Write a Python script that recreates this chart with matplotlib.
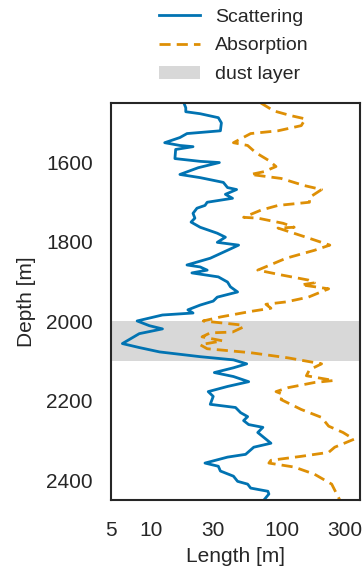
import matplotlib.pyplot as plt
from matplotlib.patches import Patch

plt.rcParams['font.family'] = ['Liberation Sans', 'DejaVu Sans']
plt.rcParams['text.color'] = '.15'
plt.rcParams['axes.labelcolor'] = '.15'
plt.rcParams['xtick.color'] = '.15'
plt.rcParams['ytick.color'] = '.15'

# scattering length profile (depth [m], length [m])
scat_depth = [1450, 1462, 1472, 1477, 1487, 1500, 1520, 1527, 1537, 1550,
              1557, 1560, 1567, 1590, 1597, 1600, 1613, 1630, 1638, 1650,
              1663, 1668, 1680, 1690, 1700, 1708, 1715, 1728, 1740, 1750,
              1763, 1778, 1788, 1801, 1808, 1821, 1841, 1858, 1863, 1871,
              1878, 1888, 1901, 1913, 1926, 1939, 1949, 1959, 1971, 1979,
              1984, 1999, 2011, 2019, 2031, 2056, 2066, 2077, 2089, 2097,
              2107, 2117, 2129, 2139, 2152, 2164, 2177, 2189, 2209, 2217,
              2230, 2240, 2250, 2260, 2267, 2280, 2307, 2317, 2335, 2342,
              2357, 2365, 2377, 2390, 2403, 2410, 2420, 2428, 2435, 2450]
scat_len = [17.9, 18.5, 18.5, 23.8, 32.7, 34.5, 33.9, 18.9, 16.7, 12.8,
            16.7, 21.0, 15.5, 15.3, 23.8, 33.3, 23.0, 16.7, 23.8, 35.7,
            38.4, 45.0, 37.0, 41.9, 26.9, 25.9, 22.5, 21.0, 21.7, 20.3,
            23.8, 32.1, 37.0, 32.1, 46.6, 38.4, 28.4, 18.9, 23.8, 26.9,
            20.6, 32.7, 38.4, 40.4, 45.8, 32.1, 29.9, 23.8, 19.2, 21.0,
            12.3, 7.9, 9.8, 12.3, 8.2, 6.1, 8.2, 11.7, 23.8, 42.6,
            53.7, 42.6, 30.5, 42.6, 55.6, 38.4, 27.4, 29.9, 28.4, 44.2,
            48.3, 54.6, 50.9, 55.6, 71.3, 65.2, 82.1, 60.8, 52.7, 38.4,
            25.9, 32.7, 33.9, 42.6, 45.8, 54.6, 57.6, 77.8, 79.2, 72.6]

# absorption length profile (depth [m], length [m])
abs_depth = [1450, 1470, 1482, 1490, 1507, 1520, 1527, 1550, 1557, 1575,
             1595, 1610, 1623, 1630, 1640, 1658, 1668, 1688, 1700, 1708,
             1720, 1738, 1740, 1753, 1763, 1765, 1790, 1808, 1821, 1841,
             1871, 1883, 1896, 1903, 1908, 1918, 1939, 1951, 1957, 1967,
             1975, 1989, 1999, 2009, 2014, 2027, 2029, 2039, 2049, 2059,
             2069, 2079, 2092, 2107, 2122, 2137, 2149, 2154, 2167, 2177,
             2184, 2197, 2222, 2242, 2264, 2280, 2297, 2317, 2330, 2340,
             2350, 2357, 2367, 2385, 2410, 2450]
abs_len = [68.8, 86.5, 116.9, 149.8, 139.6, 92.9, 57.6, 42.6, 54.6, 62.9,
           79.2, 89.7, 72.6, 57.6, 98.0, 147.3, 199.1, 161.1, 161.1, 92.9,
           68.8, 50.9, 65.2, 101.6, 123.3, 92.9, 158.1, 230.0, 175.8, 107.1,
           65.2, 98.0, 158.1, 175.8, 139.6, 225.3, 158.1, 107.1, 75.2, 82.1,
           57.6, 33.9, 25.1, 48.3, 50.9, 41.9, 28.4, 24.6, 35.1, 23.8,
           26.9, 57.6, 110.9, 199.1, 161.1, 152.6, 246.2, 175.8, 110.9, 89.7,
           101.6, 98.0, 139.6, 199.1, 225.3, 290.0, 350.7, 250.6, 225.3, 139.6,
           82.1, 79.2, 123.3, 175.8, 237.6, 273.8]

dust_top, dust_bottom = 2000, 2100
xticks = [5, 10, 30, 100, 300]
yticks = [1600, 1800, 2000, 2200, 2400]

fig = plt.figure(figsize=(3.64, 5.69), dpi=100)
ax = fig.add_axes([111 / 364, 1 - 500 / 569, 249 / 364, 397 / 569])

ax.axhspan(dust_top, dust_bottom, color='#d8d8d8', lw=0, zorder=0)
ax.plot(scat_len, scat_depth, color='#0173b2', lw=2)
ax.plot(abs_len, abs_depth, color='#de8f05', lw=2, ls=(0, (4, 2.2)))

ax.set_xscale('log')
ax.set_xlim(5, 390)
ax.set_ylim(2450, 1450)
ax.set_xticks(xticks)
ax.set_xticklabels([str(t) for t in xticks])
ax.minorticks_off()
ax.set_yticks(yticks)
ax.tick_params(length=0, labelsize=15)
ax.tick_params(axis='x', pad=15)
ax.tick_params(axis='y', pad=13)
for sp in ax.spines.values():
    sp.set_color('.15')
    sp.set_linewidth(1.5)

ax.set_xlabel('Length [m]', fontsize=15, labelpad=5)
ax.set_ylabel('Depth [m]', fontsize=15, labelpad=7)

handles = [
    plt.Line2D([], [], color='#0173b2', lw=2),
    plt.Line2D([], [], color='#de8f05', lw=2, ls=(0, (4, 2.2))),
    Patch(color='#d8d8d8', lw=0),
]
fig.legend(handles, ['Scattering', 'Absorption', 'dust layer'],
           loc='upper left', bbox_to_anchor=(159 / 364, 1 - 8 / 569),
           frameon=False, fontsize=14, borderpad=0, borderaxespad=0,
           handlelength=2.1, handletextpad=0.8, labelspacing=0.58)

fig.savefig('out.png', dpi=100)
